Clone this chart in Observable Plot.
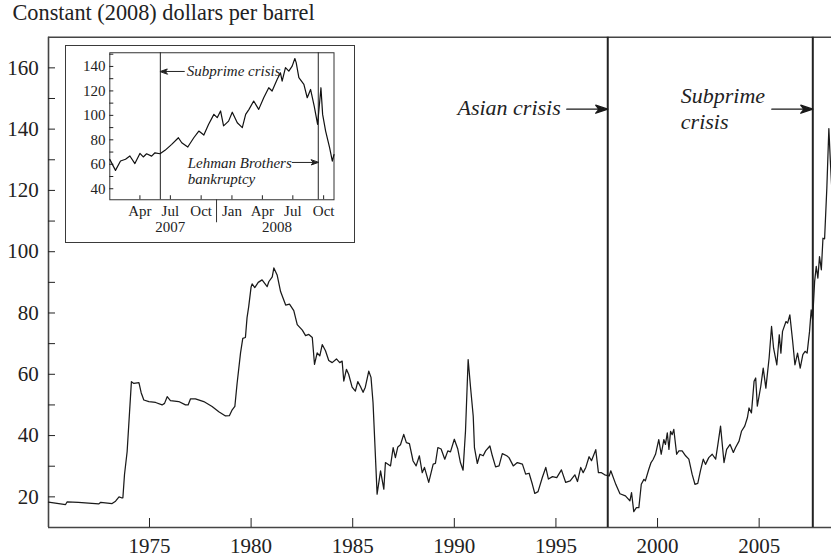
<!DOCTYPE html>
<html><head><meta charset="utf-8">
<script src="https://cdn.jsdelivr.net/npm/d3@7"></script>
<script src="https://cdn.jsdelivr.net/npm/@observablehq/plot@0.6"></script>
<style>
body{margin:0;background:#fff;}
#wrap{position:relative;width:831px;height:557px;overflow:hidden;font-family:"Liberation Serif","Times New Roman",serif;color:#222;}
#title{position:absolute;left:12.5px;top:-0.7px;font-size:22.3px;line-height:28px;white-space:nowrap;}
#main{position:absolute;left:0;top:28px;}
#inset{position:absolute;left:64.5px;top:45.25px;border:1.5px solid #3a3a3a;background:#fff;width:288px;height:196px;}
</style></head><body>
<div id="wrap"><div id="title">Constant (2008) dollars per barrel</div><div id="main"></div><div id="inset"></div></div>
<script>
// ---- main series: constant (2008) dollars per barrel ----
const years = [1970.03,1970.87,1970.95,1971.5,1972.5,1972.6,1973.16,1973.33,1973.5,1973.62,1973.69,1973.77,1973.9,1974.11,1974.23,1974.48,1974.59,1974.72,1974.97,1975.3,1975.62,1975.74,1975.87,1976.03,1976.44,1976.77,1976.9,1977.02,1977.26,1977.67,1978.08,1978.41,1978.74,1978.93,1979.07,1979.2,1979.31,1979.48,1979.59,1979.72,1979.8,1979.88,1980.0,1980.05,1980.18,1980.35,1980.54,1980.79,1980.87,1981.04,1981.12,1981.28,1981.45,1981.7,1981.89,1982.1,1982.27,1982.52,1982.68,1982.84,1983.01,1983.12,1983.25,1983.38,1983.5,1983.66,1983.82,1983.99,1984.2,1984.36,1984.48,1984.56,1984.69,1984.8,1984.97,1985.13,1985.25,1985.38,1985.51,1985.62,1985.79,1985.9,1986.0,1986.2,1986.37,1986.53,1986.61,1986.86,1986.99,1987.1,1987.22,1987.35,1987.51,1987.64,1987.79,1987.97,1988.12,1988.28,1988.42,1988.53,1988.74,1988.96,1989.07,1989.19,1989.35,1989.53,1989.68,1989.81,1990.0,1990.17,1990.3,1990.43,1990.55,1990.68,1990.8,1990.93,1990.99,1991.13,1991.26,1991.42,1991.54,1991.75,1991.87,1992.03,1992.2,1992.36,1992.58,1992.69,1992.9,1993.1,1993.35,1993.51,1993.68,1993.84,1993.96,1994.12,1994.33,1994.5,1994.63,1994.83,1995.04,1995.27,1995.48,1995.7,1995.93,1996.06,1996.22,1996.34,1996.47,1996.63,1996.75,1996.96,1997.09,1997.24,1997.4,1997.62,1997.7,1997.95,1998.15,1998.42,1998.64,1998.72,1998.83,1998.96,1999.08,1999.2,1999.33,1999.4,1999.57,1999.68,1999.78,1999.9,2000.06,2000.18,2000.31,2000.39,2000.48,2000.56,2000.64,2000.72,2000.8,2000.94,2001.05,2001.21,2001.38,2001.54,2001.7,2001.84,2001.98,2002.11,2002.25,2002.36,2002.52,2002.69,2002.86,2002.97,2003.1,2003.27,2003.4,2003.57,2003.73,2003.84,2004.01,2004.13,2004.29,2004.42,2004.5,2004.62,2004.75,2004.83,2004.91,2005.08,2005.2,2005.33,2005.49,2005.61,2005.71,2005.87,2005.99,2006.07,2006.15,2006.32,2006.4,2006.51,2006.65,2006.76,2006.89,2007.02,2007.15,2007.26,2007.36,2007.48,2007.56,2007.63,2007.73,2007.81,2007.89,2007.97,2008.06,2008.14,2008.22,2008.33,2008.43,2008.5,2008.58];
const prices = [18.3,17.5,18.4,18.2,17.7,18.2,17.8,18.6,20.0,19.7,19.7,27.3,34.8,57.6,57.0,57.3,54.0,51.6,51.1,50.8,50.0,50.5,52.7,51.4,51.1,50.0,50.0,52.0,52.0,51.1,49.5,47.8,46.4,46.5,48.4,49.5,57.0,67.0,71.7,72.0,78.5,82.0,88.5,89.5,88.3,90.0,90.8,88.6,90.2,91.8,94.7,92.4,87.0,82.6,82.9,80.8,76.2,74.4,72.6,73.0,72.0,63.2,67.0,66.0,69.7,67.7,64.5,63.8,65.0,63.8,64.3,57.8,61.6,60.0,55.8,54.5,57.6,56.0,54.1,55.8,61.0,59.0,50.7,20.9,28.5,22.5,31.2,30.1,36.1,32.8,36.3,37.0,40.4,37.7,37.4,31.7,30.1,33.4,27.9,29.6,24.7,30.7,30.9,36.1,35.6,32.3,35.0,34.7,38.8,35.6,31.2,28.7,41.5,64.8,55.6,46.3,36.1,30.9,33.9,33.4,35.0,36.6,33.4,29.8,30.1,34.1,33.4,32.8,30.1,31.2,30.7,27.4,27.7,24.1,21.1,21.7,26.3,29.6,25.8,26.6,26.3,28.8,24.7,25.2,27.2,25.0,29.6,27.9,29.6,33.1,31.8,35.4,27.9,27.9,27.2,26.8,28.5,24.0,21.0,20.3,18.7,21.4,15.2,16.5,16.5,24.1,25.7,25.2,29.0,31.2,32.2,33.9,38.7,33.9,38.7,37.1,40.9,35.5,41.4,40.3,42.0,33.9,35.0,35.0,33.4,32.3,27.4,24.1,24.4,28.5,32.3,30.6,32.8,33.9,32.3,37.1,43.1,31.2,35.5,37.1,34.5,36.1,38.2,41.4,43.1,45.8,49.0,47.4,57.7,58.8,49.6,56.1,62.0,55.5,65.3,75.6,68.5,63.1,72.9,66.9,74.0,77.2,76.7,79.4,70.7,63.1,66.9,62.0,66.4,67.5,66.9,74.0,81.0,77.8,90.3,95.2,91.4,98.4,94.1,104.4,104.2,120.7,140.2,130.0,120.0];

const xTicks = [1975,1980,1985,1990,1995,2000,2005];
const yTicks = [20,30,40,50,60,70,80,90,100,110,120,130,140,150,160];
const yLabels = [20,40,60,80,100,120,140,160];

const eventNames = ["Asian crisis", "Subprime\ncrisis"];
const eventYears = [1997.55, 2007.64];

// ---- inset series: 2007-2008 ----
const insetDates = ["2007-01-01","2007-01-18","2007-02-02","2007-02-17","2007-03-02","2007-03-17","2007-04-01","2007-04-11","2007-04-21","2007-05-06","2007-05-16","2007-05-31","2007-06-15","2007-07-05","2007-07-25","2007-08-04","2007-08-22","2007-09-09","2007-09-24","2007-10-09","2007-10-23","2007-11-08","2007-11-18","2007-11-28","2007-12-07","2007-12-22","2008-01-02","2008-01-17","2008-02-01","2008-02-11","2008-02-21","2008-03-06","2008-03-21","2008-04-05","2008-04-20","2008-04-30","2008-05-15","2008-05-25","2008-05-30","2008-06-09","2008-06-19","2008-06-29","2008-07-07","2008-07-11","2008-07-19","2008-08-03","2008-08-13","2008-08-23","2008-09-03","2008-09-13","2008-09-23","2008-09-28","2008-10-07","2008-10-19","2008-10-27","2008-11-01"];
const insetPrices = [64.0,55.0,62.7,64.1,66.8,60.6,68.9,66.0,68.6,66.7,69.4,68.6,71.4,76.3,81.7,77.6,74.1,81.7,87.2,83.9,92.6,100.8,98.1,103.6,91.4,95.3,102.6,94.0,90.0,100.8,104.9,111.7,104.9,114.4,122.6,119.9,129.4,134.8,128.0,139.0,136.2,140.3,146.5,143.1,130.8,125.3,114.4,121.2,107.4,92.6,122.6,100.8,87.2,73.5,62.6,68.0];

const insetYTicks = [40,50,60,70,80,90,100,110,120,130,140,150];
const insetYLabels = [40,60,80,100,120,140];
const insetXTicks = ["2007-04-01","2007-07-01","2007-10-01","2008-01-01","2008-04-01","2008-07-01","2008-10-01"];
const insetYearLabels = ["2007","2008"];
const insetYearPos = ["2007-07-01","2008-05-15"];
const insetYearBreak = ["2007-11-16"];
const insetEventNames = ["Subprime crisis", "Lehman Brothers\nbankruptcy"];
const insetEventDates = ["2007-06-01", "2008-09-15"];

// ---- helpers ----
function arrowShape(h, w) {
  return {
    draw(context, l) {
      context.moveTo(0, 0);
      context.lineTo(0, -l + h * 0.7);
      context.moveTo(0, -l);
      context.lineTo(w, -l + h);
      context.lineTo(0, -l + h * 0.72);
      context.lineTo(-w, -l + h);
      context.closePath();
    }
  };
}
const font = '"Liberation Serif", "Times New Roman", serif';

const mainData = years.map((y, i) => ({year: y, price: prices[i]}));
const events = eventYears.map((y, i) => ({year: y, name: eventNames[i]}));
const arrowLevel = 146.5;

const main = Plot.plot({
  width: 831, height: 529,
  marginLeft: 48, marginRight: 0, marginTop: 8.7, marginBottom: 30,
  style: {fontFamily: font, background: "transparent", color: "#222"},
  x: {domain: [1970.03, 2008.56]},
  y: {domain: [10, 170]},
  marks: [
    Plot.ruleY([10, 170], {stroke: "#444", strokeWidth: 1.4}),
    Plot.ruleX([1970.03], {stroke: "#444", strokeWidth: 1.6}),
    Plot.axisY(yTicks, {tickSize: -7, tickPadding: 16.7, fontSize: 21, label: null,
      tickFormat: d => yLabels.includes(d) ? String(d) : ""}),
    Plot.axisX(xTicks, {tickSize: -9, tickPadding: 20, fontSize: 21, label: null,
      tickFormat: d => String(d)}),
    Plot.ruleX(events, {x: "year", stroke: "#222", strokeWidth: 2}),
    Plot.line(mainData, {x: "year", y: "price", stroke: "#1a1a1a", strokeWidth: 1.25}),
    Plot.vector(events, {x: "year", y: () => arrowLevel, length: 41, rotate: 90, anchor: "end",
      shape: arrowShape(12, 4), stroke: "#1a1a1a", fill: "#1a1a1a", strokeWidth: 1.3}),
    Plot.text(events.slice(0, 1), {x: "year", y: () => arrowLevel, text: "name", dx: -47, dy: -1,
      textAnchor: "end", fontSize: 22, fontStyle: "italic", fill: "#222"}),
    Plot.text(events.slice(1), {x: "year", y: () => arrowLevel, text: "name", dx: -132, dy: -1.5,
      textAnchor: "start", lineAnchor: "middle", lineHeight: 1.18, fontSize: 22, fontStyle: "italic", fill: "#222"})
  ]
});
document.getElementById("main").appendChild(main);

// ---- inset ----
const pd = s => new Date(s + "T00:00:00Z");
const insetData = insetDates.map((d, i) => ({date: pd(d), price: insetPrices[i]}));
const insetEvents = insetEventDates.map((d, i) => ({date: pd(d), name: insetEventNames[i]}));
const yearLabs = insetYearPos.map((d, i) => ({date: pd(d), label: insetYearLabels[i]}));
const subprimeLevel = 135.9, lehmanLevel = 61.5;

const inset = Plot.plot({
  width: 288, height: 196,
  marginLeft: 43.3, marginRight: 20.5, marginTop: 6.25, marginBottom: 42.75,
  style: {fontFamily: font, background: "white", color: "#222"},
  x: {type: "utc", domain: [pd("2007-01-01"), pd("2008-11-01")]},
  y: {domain: [31, 151.2]},
  marks: [
    Plot.frame({stroke: "#333", strokeWidth: 1}),
    Plot.axisY(insetYTicks, {tickSize: -4, tickPadding: 8.3, fontSize: 15, label: null,
      tickFormat: d => insetYLabels.includes(d) ? String(d) : ""}),
    Plot.axisX(insetXTicks.map(pd), {tickSize: -4, tickPadding: 10, fontSize: 15, label: null,
      tickFormat: d3.utcFormat("%b")}),
    Plot.text(yearLabs, {x: "date", text: "label", frameAnchor: "bottom", lineAnchor: "top", dy: 21.3, fontSize: 15}),
    Plot.ruleX(insetYearBreak.map(pd), {insetTop: 147, insetBottom: -23, stroke: "#333", strokeWidth: 1}),
    Plot.ruleX(insetEvents, {x: "date", stroke: "#222", strokeWidth: 1}),
    Plot.line(insetData, {x: "date", y: "price", stroke: "#111", strokeWidth: 1.2}),
    Plot.vector(insetEvents.slice(0, 1), {x: "date", y: () => subprimeLevel, length: 24, rotate: -90, anchor: "end",
      shape: arrowShape(7, 2.5), stroke: "#222", fill: "#222", strokeWidth: 1}),
    Plot.vector(insetEvents.slice(1), {x: "date", y: () => lehmanLevel, length: 26, rotate: 90, anchor: "end",
      shape: arrowShape(7, 2.5), stroke: "#222", fill: "#222", strokeWidth: 1}),
    Plot.text(insetEvents.slice(0, 1), {x: "date", y: () => subprimeLevel, text: "name", dx: 26.5,
      textAnchor: "start", fontSize: 15, fontStyle: "italic", fill: "#222"}),
    Plot.text(insetEvents.slice(1), {x: "date", y: () => lehmanLevel, text: "name", dx: -130.5, dy: 8.2,
      textAnchor: "start", lineAnchor: "middle", lineHeight: 1.09, fontSize: 15, fontStyle: "italic", fill: "#222"})
  ]
});
document.getElementById("inset").appendChild(inset);
</script>
</body></html>
